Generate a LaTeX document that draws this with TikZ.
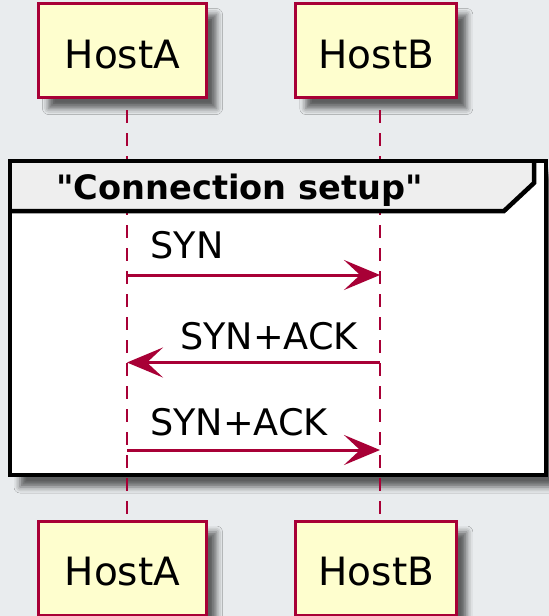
\documentclass[tikz,border=0pt]{standalone}
\usepackage{fontspec}
\setmainfont{DejaVu Sans}
% straight ASCII quotes in the group title
\newfontfamily\titlefont{DejaVu Sans}[Ligatures=ResetAll]
\usetikzlibrary{arrows.meta,shadows.blur}

\definecolor{bgcol}{RGB}{233,236,238}
\definecolor{umlred}{HTML}{A80036}
\definecolor{partfill}{HTML}{FEFECE}
\definecolor{grpfill}{HTML}{EEEEEE}

\tikzset{
  boxshadow/.style={blur shadow={shadow xshift=10pt, shadow yshift=-11pt,
      shadow blur radius=6pt, shadow opacity=60}},
  participant/.style={draw=umlred, line width=3pt, fill=partfill,
      minimum height=94pt, inner sep=0pt, text height=36pt,
      font=\fontsize{39}{45}\selectfont, boxshadow},
  lifeline/.style={draw=umlred, line width=2.5pt, dash pattern=on 13pt off 10pt},
  msg/.style={draw=umlred, line width=3pt,
      -{Stealth[length=36pt, width=30pt, inset=16pt]}},
  msglabel/.style={anchor=base west, inner sep=0pt,
      font=\fontsize{36.6}{42}\selectfont},
  grouptitle/.style={anchor=base west, inner sep=0pt,
      font=\titlefont\fontsize{33.6}{40}\selectfont\bfseries},
  groupline/.style={draw=black, line width=4.5pt, line join=miter},
}

\begin{document}
\begin{tikzpicture}[x=1pt, y=-1pt]
  % canvas
  \fill[bgcol] (0,0) rectangle (549,616);
  \useasboundingbox (0,0) rectangle (549,616);

  % group body with its shadow
  \fill[white, blur shadow={shadow xshift=10pt, shadow yshift=-12pt,
      shadow blur radius=6pt, shadow opacity=60}] (10,161) rectangle (546,475);

  % participants
  \node[participant, minimum width=168pt] (topA) at (122.5,50.5) {HostA};
  \node[participant, minimum width=161pt] (topB) at (376.3,50.5) {HostB};
  \node[participant, minimum width=168pt] (botA) at (122.5,568) {HostA};
  \node[participant, minimum width=161pt] (botB) at (376.3,568) {HostB};

  % lifelines
  \coordinate (lAtop) at (127,110);
  \coordinate (lAbot) at (127,521);
  \coordinate (lBtop) at (380,110);
  \coordinate (lBbot) at (380,521);
  \draw[lifeline] (lAtop) -- (lAbot);
  \draw[lifeline] (lBtop) -- (lBbot);

  % group header tab
  \fill[grpfill] (10,161) -- (534,161) -- (534,183) -- (504,211) -- (10,211) -- cycle;
  \draw[groupline] (10,211) -- (504,211) -- (534,183) -- (534,161);
  \draw[groupline] (10,161) rectangle (546,475);
  \node[grouptitle] (gtitle) at (56,199) {"Connection setup"};

  % messages
  \coordinate (m1a) at (127,275);
  \coordinate (m1b) at (380,275);
  \coordinate (m2a) at (127,362.5);
  \coordinate (m2b) at (380,362.5);
  \coordinate (m3a) at (127,450);
  \coordinate (m3b) at (380,450);
  \draw[msg] (m1a) -- (m1b);
  \draw[msg] (m2b) -- (m2a);
  \draw[msg] (m3a) -- (m3b);
  \node[msglabel] (l1) at (150.5,258) {SYN};
  \node[msglabel] (l2) at (180,349) {SYN+ACK};
  \node[msglabel] (l3) at (150,435) {SYN+ACK};
\end{tikzpicture}
\end{document}
